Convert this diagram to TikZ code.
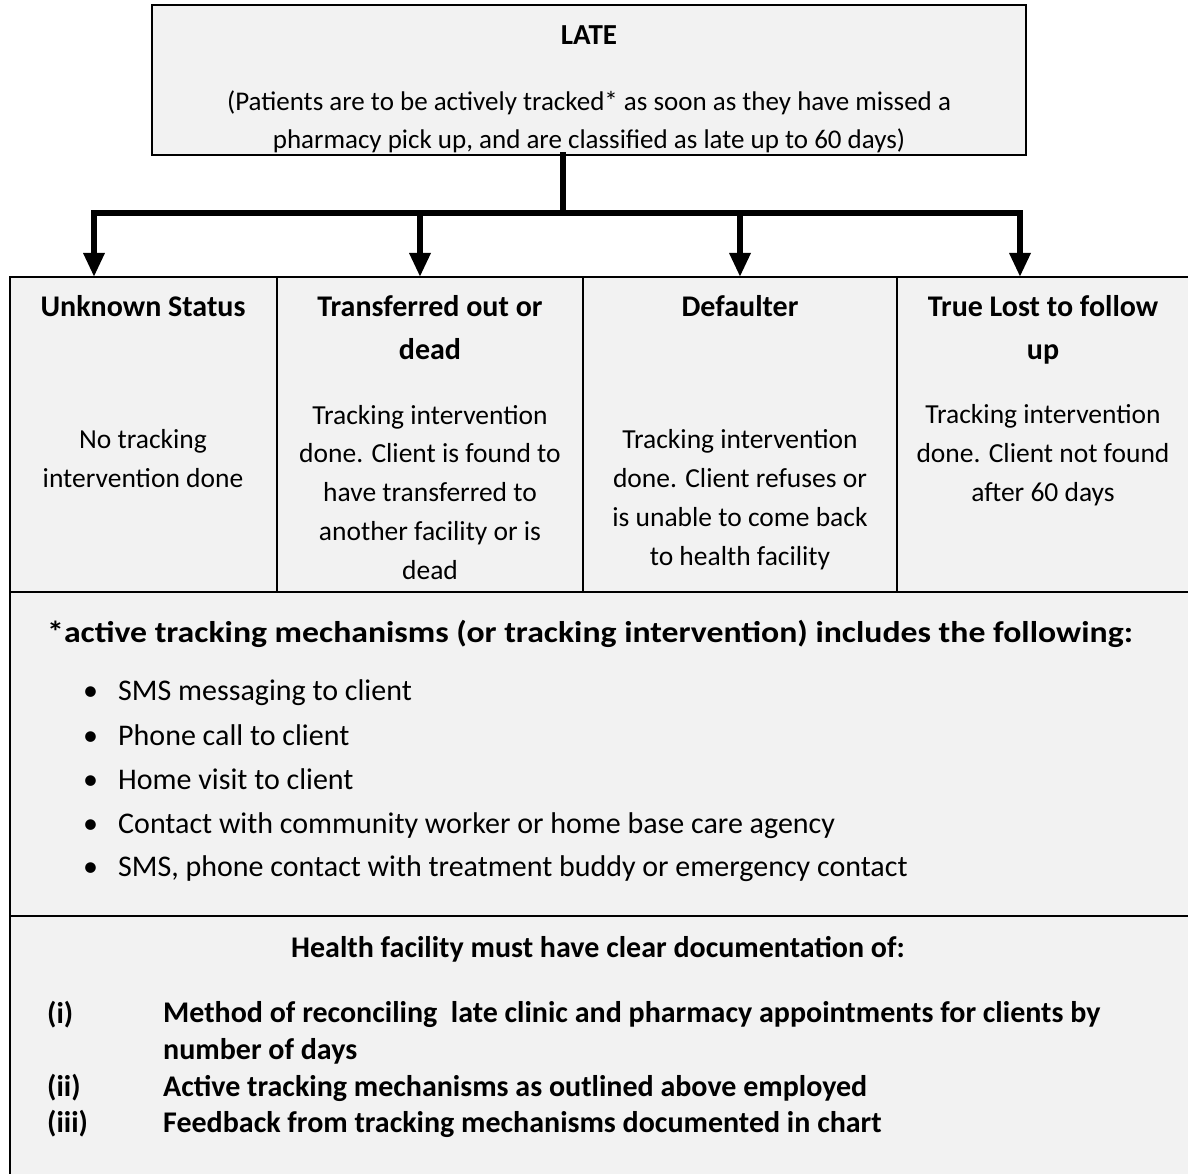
\documentclass[tikz,border=0pt]{standalone}
\usepackage{fontspec}
\usepackage{graphicx}
\setmainfont{Carlito}
\usetikzlibrary{arrows.meta}
\definecolor{cellgray}{HTML}{F2F2F2}
\begin{document}
\begin{tikzpicture}[x=1pt,y=-1pt,
  cell/.style={draw=black, line width=1.6pt, fill=cellgray, inner sep=0pt, outer sep=0pt, anchor=north west},
  body/.style={font=\fontsize{27.5}{38.7}\selectfont, align=center, anchor=base, inner sep=0pt},
  topbody/.style={font=\fontsize{27}{38}\selectfont, align=center, anchor=base, inner sep=0pt},
  head/.style={font=\fontsize{30}{43}\selectfont\bfseries, align=center, anchor=base, inner sep=0pt},
  lefttext/.style={font=\fontsize{30}{36.5}\selectfont, anchor=base west, inner sep=0pt},
  boldleft/.style={lefttext, font=\fontsize{30}{36.5}\selectfont\bfseries, align=left},
  conn/.style={line width=6pt, line cap=rect},
  arr/.style={line width=6pt, -{Triangle[length=24pt,width=20pt]}}
]
\useasboundingbox (0,0) rectangle (1188,1174);

% top box
\node[cell, minimum width=874pt, minimum height=150pt] (late) at (152,5) {};
\node[head, font=\fontsize{29}{38}\selectfont\bfseries] (lateT) at (589,45) {LATE};
\node[topbody] (lateB) at (589,149) {(Patients are to be actively tracked* as soon as they have missed a\\pharmacy pick up, and are classified as late up to 60 days)};

% table cells
\node[cell, minimum width=267pt, minimum height=315pt] (c1) at (10,277) {};
\node[cell, minimum width=306pt, minimum height=315pt] (c2) at (277,277) {};
\node[cell, minimum width=314pt, minimum height=315pt] (c3) at (583,277) {};
\node[cell, minimum width=320pt, minimum height=315pt] (c4) at (897,277) {};
\node[cell, minimum width=1200pt, minimum height=324pt] (track) at (10,592) {};
\node[cell, minimum width=1200pt, minimum height=280pt] (doc) at (10,916) {};

% connectors
\coordinate (j) at (563,213);
\coordinate (a1) at (94,277);
\coordinate (a2) at (420,277);
\coordinate (a3) at (740,277);
\coordinate (a4) at (1020,277);
\draw[conn] (late.south -| j) -- (j);
\draw[conn] (a1 |- j) -- (a4 |- j);
\draw[arr] (a1 |- j) -- (a1);
\draw[arr] (a2 |- j) -- (a2);
\draw[arr] (a3 |- j) -- (a3);
\draw[arr] (a4 |- j) -- (a4);

% column texts (base anchor = baseline of last line)
\node[head] (h1) at (143,316) {Unknown Status};
\node[body] (b1) at (143,487) {No tracking\\intervention done};
\node[head] (h2) at (430,359) {Transferred out or\\dead};
\node[body] (b2) at (430,579) {Tracking intervention\\done. Client is found to\\have transferred to\\another facility or is\\dead};
\node[head] (h3) at (740,316) {Defaulter};
\node[body] (b3) at (740,565) {Tracking intervention\\done. Client refuses or\\is unable to come back\\to health facility};
\node[head] (h4) at (1043,359) {True Lost to follow\\up};
\node[body] (b4) at (1043,501) {Tracking intervention\\done. Client not found\\after 60 days};

% tracking section
\node[boldleft] (trT) at (47,642) {\scalebox{1.125}[1]{*active tracking mechanisms (or tracking intervention) includes the following:}};
\foreach \i/\yy/\t in {1/700/SMS messaging to client, 2/745/Phone call to client, 3/789/Home visit to client, 4/833/Contact with community worker or home base care agency, 5/876/{SMS, phone contact with treatment buddy or emergency contact}}{
  \node[lefttext] (bul\i) at (83,\yy) {\textbullet};
  \node[lefttext] (it\i) at (118,\yy) {\t};
}

% documentation section
\node[head] (docT) at (598,957) {Health facility must have clear documentation of:};
\node[boldleft] (l1) at (47,1023) {(i)};
\node[boldleft] (d1) at (163,1059) {Method of reconciling \ late clinic and pharmacy appointments for clients by\\number of days};
\node[boldleft] (l2) at (47,1096) {(ii)};
\node[boldleft] (d2) at (163,1096) {Active tracking mechanisms as outlined above employed};
\node[boldleft] (l3) at (47,1132) {(iii)};
\node[boldleft] (d3) at (163,1132) {Feedback from tracking mechanisms documented in chart};
\end{tikzpicture}
\end{document}
